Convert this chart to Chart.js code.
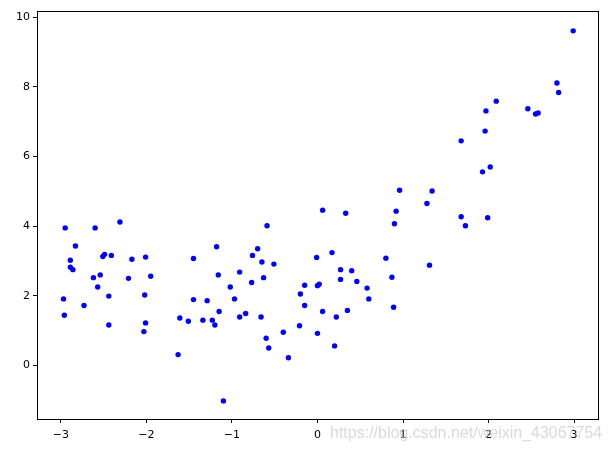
<!DOCTYPE html>
<html>
<head>
<meta charset="utf-8">
<script src="https://cdn.jsdelivr.net/npm/chart.js@4"></script>
<style>
  html, body { margin: 0; padding: 0; background: #fff; }
  canvas { display: block; }
</style>
</head>
<body>
<canvas id="chart" width="611" height="450"></canvas>
<script>
// scatter points
const xs = [
    -2.95, -2.60, -2.31, -2.83, -2.89, -2.89, -2.86, -2.51, -2.49, -2.41,
    -2.62, -2.54, -2.57, -2.44, -2.97, -2.73, -2.96, -2.44, -2.17, -2.21,
    -2.01, -1.95, -2.02, -2.01, -2.03, -1.63, -1.61, -1.51, -1.45, -1.45,
    -1.34, -1.29, -1.23, -1.20, -1.18, -1.16, -1.15, -1.10, -1.02, -0.97,
    -0.91, -0.91, -0.84, -0.77, -0.76, -0.70, -0.65, -0.63, -0.66, -0.59,
    -0.60, -0.57, -0.51, -0.40, -0.34, -0.21, -0.20, -0.15, -0.15, -0.01,
    0.00, 0.00, 0.02, 0.06, 0.06, 0.17, 0.20, 0.22, 0.27, 0.27,
    0.33, 0.35, 0.40, 0.46, 0.58, 0.60, 0.80, 0.87, 0.89, 0.90,
    0.92, 0.96, 1.28, 1.31, 1.34, 1.68, 1.68, 1.73, 1.93, 1.96,
    1.97, 1.99, 2.02, 2.09, 2.46, 2.55, 2.58, 2.80, 2.82, 2.99
]
const ys = [
    3.95, 3.95, 4.12, 3.43, 3.02, 2.82, 2.75, 3.13, 3.19, 3.16,
    2.52, 2.60, 2.25, 1.99, 1.91, 1.72, 1.44, 1.16, 3.05, 2.50,
    3.11, 2.56, 2.02, 1.22, 0.97, 0.31, 1.36, 1.27, 3.07, 1.89,
    1.30, 1.86, 1.30, 1.16, 3.41, 2.60, 1.55, -1.02, 2.25, 1.91,
    2.68, 1.39, 1.49, 2.38, 3.16, 3.35, 2.97, 2.52, 1.39, 4.01,
    0.78, 0.50, 2.91, 0.95, 0.22, 1.14, 2.05, 2.30, 1.72, 3.10,
    0.92, 2.29, 2.33, 4.46, 1.55, 3.24, 0.56, 1.39, 2.75, 2.47,
    4.37, 1.58, 2.72, 2.41, 2.22, 1.91, 3.08, 2.53, 1.67, 4.07,
    4.43, 5.03, 4.65, 2.88, 5.01, 6.45, 4.27, 4.01, 5.56, 6.73,
    7.31, 4.24, 5.70, 7.59, 7.37, 7.22, 7.25, 8.11, 7.84, 9.61
]
const xTicks = [-3, -2, -1, 0, 1, 2, 3]
const yTicks = [0, 2, 4, 6, 8, 10]

const points = xs.map((x, i) => ({x: x, y: ys[i]}))
const tickFont = {family: 'DejaVu Sans', size: 11}
const minus = v => String(v).replace('-', '\u2212')

// matplotlib-like box round the plot area, plus the watermark
const framePlugin = {
    id: 'frame',
    afterDraw(chart) {
        const ctx = chart.ctx
        const a = chart.chartArea
        ctx.save()
        ctx.strokeStyle = '#000'
        ctx.lineWidth = 1
        ctx.strokeRect(Math.round(a.left) + 0.5, Math.round(a.top) + 0.5,
            Math.round(a.right - a.left), Math.round(a.bottom - a.top))
        ctx.font = '16px "Liberation Sans", Arial, sans-serif'
        ctx.fillStyle = 'rgba(205,205,205,0.75)'
        ctx.textBaseline = 'alphabetic'
        ctx.fillText('https://blog.csdn.net/weixin_43067754', 330, 438)
        ctx.restore()
    }
}

new Chart(document.getElementById('chart').getContext('2d'), {
    type: 'scatter',
    data: {
        datasets: [{
            data: points,
            backgroundColor: '#0000ff',
            borderWidth: 0,
            pointRadius: 2.7,
            pointHoverRadius: 2.7
        }]
    },
    options: {
        responsive: false,
        animation: false,
        devicePixelRatio: 1,
        layout: {padding: {top: 11, right: 13, left: 0, bottom: 0}},
        plugins: {legend: {display: false}, tooltip: {enabled: false}},
        scales: {
            x: {
                type: 'linear',
                min: -3.28,
                max: 3.28,
                afterFit: s => { s.height = 31 },
                afterBuildTicks: s => { s.ticks = xTicks.map(v => ({value: v})) },
                grid: {display: true, drawOnChartArea: false, tickLength: 4, tickColor: '#000'},
                border: {display: false},
                ticks: {color: '#000', font: tickFont, padding: 6, maxRotation: 0, callback: minus}
            },
            y: {
                type: 'linear',
                min: -1.54,
                max: 10.18,
                afterFit: s => { s.width = 37 },
                afterBuildTicks: s => { s.ticks = yTicks.map(v => ({value: v})) },
                grid: {display: true, drawOnChartArea: false, tickLength: 4, tickColor: '#000'},
                border: {display: false},
                ticks: {color: '#000', font: tickFont, padding: 3, callback: minus}
            }
        }
    },
    plugins: [framePlugin]
})
</script>
</body>
</html>
